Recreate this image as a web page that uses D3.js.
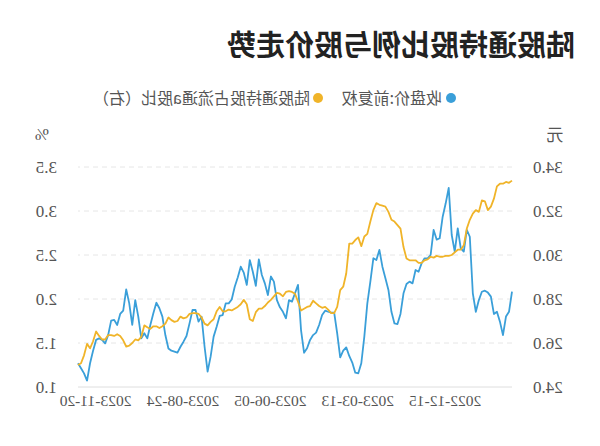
<!DOCTYPE html>
<html><head><meta charset="utf-8">
<script src="https://cdn.jsdelivr.net/npm/d3@7/dist/d3.min.js"></script>
<style>html,body{margin:0;padding:0;background:#fff;}svg{display:block;}</style>
</head><body>
<script>
const title = "陆股通持股比例与股价走势";
const seriesNames = ["收盘价:前复权", "陆股通持股占流通a股比（右）"];
const seriesColors = ["#3a9fd9", "#f0b429"];
const priceTicks = [24, 26, 28, 30, 32, 34];
const pctTicks = [1.0, 1.5, 2.0, 2.5, 3.0, 3.5];
const xTickLabels = ["2022-12-15", "2023-03-13", "2023-06-05", "2023-08-24", "2023-11-20"];
const xTickIndex = [22, 51, 80, 109, 138];
const price = [
28.33,27.42,27.20,26.36,26.97,27.42,27.32,28.11,28.29,28.38,
28.33,27.95,27.42,28.26,30.83,31.14,30.15,30.30,31.21,30.15,
30.91,33.05,32.35,31.74,30.76,30.70,31.14,30.00,29.85,29.85,
29.62,29.24,29.32,28.71,28.79,28.68,28.26,27.32,26.86,26.89,
27.42,28.41,28.94,29.47,30.23,29.77,29.85,28.79,27.80,26.29,
25.08,24.62,24.65,25.11,25.41,25.80,25.65,25.35,26.44,27.38,
27.38,27.42,27.47,27.27,26.82,26.47,26.36,26.14,25.76,25.56,
26.59,28.64,28.26,27.88,27.95,27.12,27.42,27.62,27.95,28.79,
29.02,28.18,28.71,29.09,29.80,28.60,29.24,29.77,28.64,29.20,
29.47,28.98,28.56,27.98,27.80,27.80,27.27,27.23,26.74,26.29,
25.38,24.70,25.83,27.20,26.97,27.50,27.50,26.89,26.32,26.06,
25.83,25.56,25.61,25.65,25.75,26.35,27.20,27.58,27.83,27.35,
26.82,26.21,26.44,26.21,27.20,27.95,26.82,27.80,28.44,27.47,
27.32,26.82,27.05,27.02,26.36,25.98,26.14,26.21,26.14,25.65,
25.08,24.29,24.62,24.85,25.08];
const ratio = [
3.345,3.32,3.33,3.31,3.31,3.28,3.14,3.05,3.01,3.11,
3.12,2.99,3.01,2.97,2.90,2.80,2.61,2.56,2.56,2.53,
2.50,2.49,2.49,2.48,2.48,2.49,2.47,2.48,2.45,2.44,
2.41,2.41,2.44,2.44,2.44,2.46,2.59,2.80,2.84,2.88,
2.90,2.99,3.05,3.06,3.07,3.09,3.01,2.88,2.74,2.71,
2.60,2.70,2.67,2.63,2.63,2.29,2.14,2.10,1.91,1.84,
1.84,1.88,1.91,1.90,1.92,1.95,1.98,1.92,1.91,1.89,
1.87,1.97,2.06,2.08,2.09,2.08,2.03,2.06,2.07,2.03,
1.99,1.96,1.92,1.89,1.89,1.85,1.75,1.77,1.94,1.99,
1.94,1.91,1.89,1.87,1.88,1.86,1.86,1.91,1.86,1.77,
1.74,1.70,1.72,1.79,1.83,1.84,1.84,1.83,1.79,1.78,
1.80,1.75,1.74,1.76,1.79,1.72,1.69,1.67,1.69,1.69,
1.66,1.68,1.70,1.57,1.53,1.54,1.50,1.47,1.46,1.53,
1.58,1.60,1.58,1.59,1.59,1.54,1.54,1.58,1.63,1.52,
1.44,1.49,1.36,1.27,1.25];

const W = 600, H = 446;
const L = 88, R = 522, T = 167, B = 387;
const N = price.length;

const svg = d3.select("body").append("svg").attr("width", W).attr("height", H);
svg.append("rect").attr("width", W).attr("height", H).attr("fill", "#fff");
// the reference is drawn mirrored left-right
const g = svg.append("g").attr("transform", `translate(${W},0) scale(-1,1)`);

const x = d3.scaleLinear().domain([0, N - 1]).range([L, R]);
const yL = d3.scaleLinear().domain([24, 34]).range([B, T]);
const yR = d3.scaleLinear().domain([1, 3.5]).range([B, T]);

const font = "'Noto Sans CJK SC','Noto Sans',sans-serif";
const numFont = "'Liberation Serif','DejaVu Serif',serif";

// title
g.append("text").attr("x", 25).attr("y", 56).text(title)
  .attr("font-family", font).attr("font-weight", "bold").attr("font-size", 29).attr("fill", "#222");

// legend
const lg = [[149, 158], [282, 290]];
seriesNames.forEach((n, i) => {
  g.append("circle").attr("cx", lg[i][0]).attr("cy", 98).attr("r", 5).attr("fill", seriesColors[i]);
  g.append("text").attr("x", lg[i][1]).attr("y", 98).attr("dy", "0.36em").text(n)
    .attr("font-family", font).attr("font-size", 16).attr("fill", "#555");
});

// grid
g.append("g").selectAll("line").data(pctTicks).join("line")
  .attr("x1", L).attr("x2", R).attr("y1", d => yR(d)).attr("y2", d => yR(d))
  .attr("stroke", d => d === 1 ? "#dedede" : "#e6e6e6")
  .attr("stroke-dasharray", d => d === 1 ? null : "5,4").attr("stroke-width", 1);

// axes
const axL = g.append("g").attr("transform", `translate(${L},0)`)
  .call(d3.axisLeft(yL).tickValues(priceTicks).tickFormat(d3.format(".1f")).tickSize(0).tickPadding(21));
const axR = g.append("g").attr("transform", `translate(${R},0)`)
  .call(d3.axisRight(yR).tickValues(pctTicks).tickFormat(d3.format(".1f")).tickSize(0).tickPadding(21));
const axB = g.append("g").attr("transform", `translate(0,${B})`)
  .call(d3.axisBottom(x).tickValues(xTickIndex).tickFormat((d, i) => xTickLabels[i]).tickSize(0).tickPadding(8));
[axL, axR, axB].forEach(a => {
  a.select(".domain").remove();
  a.selectAll("text").attr("font-family", numFont).attr("fill", "#555");
});
axL.selectAll("text").attr("font-size", 17);
axR.selectAll("text").attr("font-size", 17);
axB.selectAll("text").attr("font-size", 15.5);

// units
g.append("text").attr("x", 45).attr("y", 135).attr("dy", "0.36em").attr("text-anchor", "middle")
  .text("元").attr("font-family", font).attr("font-size", 17).attr("fill", "#555");
g.append("text").attr("x", 558).attr("y", 134).attr("dy", "0.36em").attr("text-anchor", "middle")
  .text("%").attr("font-family", numFont).attr("font-size", 17).attr("fill", "#555");

// lines
const linePrice = d3.line().x((d, i) => x(i)).y(d => yL(d));
const lineRatio = d3.line().x((d, i) => x(i)).y(d => yR(d));
g.append("path").datum(price).attr("d", linePrice).attr("fill", "none")
  .attr("stroke", seriesColors[0]).attr("stroke-width", 1.8).attr("stroke-linejoin", "round");
g.append("path").datum(ratio).attr("d", lineRatio).attr("fill", "none")
  .attr("stroke", seriesColors[1]).attr("stroke-width", 1.8).attr("stroke-linejoin", "round");
</script>
</body></html>
